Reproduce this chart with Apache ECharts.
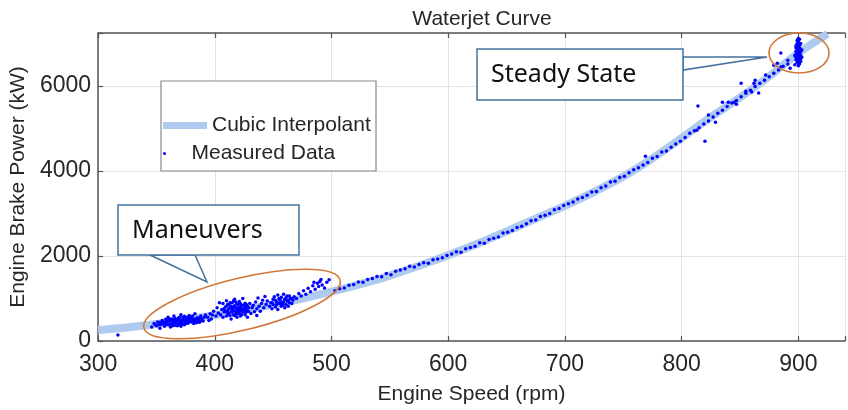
<!DOCTYPE html>
<html>
<head>
<meta charset="utf-8">
<script src="https://cdn.jsdelivr.net/npm/echarts@6/dist/echarts.min.js"></script>
<style>
  html, body { margin: 0; padding: 0; background: #fff; }
  #chart { width: 848px; height: 410px; }
</style>
</head>
<body>
<div id="chart"></div>
<script>
// cubic interpolant
const curveSpeed = [300, 325, 350, 375, 400, 425, 450, 475, 500, 525, 550, 575, 600, 625, 650, 675, 700, 725, 750, 775, 800, 825, 850, 875, 900, 925];
const curvePower = [260, 320, 400, 500, 610, 730, 860, 1000, 1160, 1340, 1540, 1770, 2020, 2290, 2580, 2880, 3180, 3510, 3870, 4300, 4780, 5270, 5730, 6230, 6780, 7230];

// measured data [rpm, kW]
const lowSpeedCluster = [
  [317,140],[346,330],[348,410],[350,360],[351,450],[353,300],[354,390],[355,480],[356,420],[357,350],[358,510],[359,440],
  [360,380],[360,560],[361,470],[362,330],[363,520],[364,410],[365,460],[365,590],[366,370],[367,500],[368,430],
  [369,550],[370,480],[370,400],[371,620],[372,450],[373,520],[374,380],[374,580],[375,470],[376,540],[377,420],
  [378,600],[379,490],[380,450],[380,560],[381,520],[382,410],[383,640],[384,480],[385,550],[386,500],[387,440],
  [388,590],[389,520],[390,470],[391,560],[392,610],[352,380],[357,440],[362,400],[366,530],[368,360],[372,490],
  [375,410],[378,460],[381,590],[384,430],[363,470],[369,420],[373,560],[376,500],[379,540],[371,350],[359,480],
  [355,420],[367,460],[383,520],[394,560],[396,640],[397,520],[399,700],[401,590],[402,780],[403,660],[395,480],
  [398,610],[404,900],[358,400],[361,520],[364,360],[366,440],[368,500],[370,560],[372,400],[374,470],[376,430],
  [378,520],[380,500],[382,470],[385,440],[387,540],[353,440],[349,380],[365,500],[371,440],[377,560],[389,480]
];
const midSpeedCluster = [
  [405,620],[406,740],[407,560],[407,880],[408,680],[409,800],[410,590],[410,950],[411,720],[412,640],[412,860],
  [413,780],[414,520],[414,690],[415,900],[415,760],[416,610],[417,830],[417,980],[418,700],[419,560],[419,870],
  [420,780],[420,640],[421,930],[422,720],[422,590],[423,840],[424,680],[424,1000],[425,760],[426,620],[426,890],
  [427,740],[428,820],[428,560],[429,700],[430,880],[431,650],[432,780],[409,700],[411,860],[413,600],[416,720],
  [418,920],[421,660],[423,760],[425,840],[427,680],[418,780],[414,820],[420,700],[422,880],[419,640],[415,680],
  [412,760],[410,820],[417,600],[424,720],[426,800],[433,840],[434,690],[435,920],[436,760],[437,1010],[438,820],
  [439,700],[440,880],[441,960],[442,780],[443,1050],[444,860],[445,940],[436,600],[408,760],[411,660],[413,900],
  [416,800],[418,640],[420,860],[421,740],[423,620],[425,700],[427,860],[429,780],[416,940],[419,720],[422,800]
];
const highManeuverCluster = [
  [447,820],[448,900],[449,760],[450,980],[450,860],[451,1040],[452,800],[453,920],[454,1080],[454,740],[455,880],
  [456,960],[457,820],[457,1030],[458,900],[459,1100],[460,780],[460,980],[461,860],[462,940],[462,1060],[463,820],
  [464,900],[465,1000],[466,880],[467,960],[468,1040],[452,960],[455,1000],[458,840],[461,1020],[463,960],[456,880],
  [459,920],[464,1060],[453,860],[466,1000],[449,900],[470,1000],[472,1120],[474,1060],[476,1180],[478,1100],
  [480,1240],[482,1160],[484,1300],[486,1220],[488,1360],[489,1280],[490,1400],[492,1320],[494,1250],[496,1380],
  [498,1440],[485,1380],[491,1450]
];
const transitPoints = [
  [503,1180],[507,1230],[511,1250],[515,1310],[519,1330],[523,1390],[527,1380],[531,1450],[535,1470],[539,1520],
  [543,1510],[547,1590],[551,1560],[555,1640],[559,1670],[563,1700],[567,1760],[571,1740],[575,1800],[579,1840],
  [583,1830],[587,1910],[591,1930],[595,1960],[599,2010],[603,2050],[607,2100],[611,2090],[615,2170],[619,2200],
  [623,2230],[627,2310],[631,2300],[635,2390],[639,2420],[643,2450],[647,2540],[651,2560],[655,2600],[659,2670],
  [663,2700],[667,2760],[671,2830],[675,2850],[679,2930],[683,2960],[687,3000],[691,3090],[695,3120],[699,3190],
  [703,3230],[707,3270],[711,3340],[715,3380],[719,3430],[723,3510],[727,3520],[731,3610],[735,3650],[739,3740],
  [743,3760],[747,3850],[751,3880],[755,3960],[759,4030],[763,4080],[767,4140],[769,4350],[771,4200],[775,4300],
  [779,4340],[783,4450],[787,4470],[791,4560],[795,4640],[799,4700],[803,4790],[807,4890],[811,4950],[813,4960],
  [814,5530],[815,5020],[819,5110],[820,4700],[823,5320],[823,5180],[827,5270],[829,5150],[831,5360],[835,5620],
  [835,5430],[839,5520],[840,5620],[843,5600],[845,5620],[847,5570],[847,5660],[851,6070],[851,5750],[855,5880],
  [855,5830],[859,5900],[860,5860],[862,6070],[863,6140],[863,5990],[866,5840],[867,6070],[871,6140],[872,6260],
  [875,6220],[879,6490],[879,6300],[882,6540],[883,6380],[885,6780],[885,6450],[887,6470],[891,6610],[891,6520],
  [893,6420]
];
const steadyStateCluster = [
  [897,6500],[898,6620],[898,6750],[899,6880],[899,6560],[900,6700],[900,6820],[900,6950],[900,7050],[901,6640],
  [901,6780],[901,6900],[902,7000],[902,6580],[902,6720],[903,6850],[899,7000],[898,6950],[900,6600],[901,7100],
  [899,6680],[900,6480],[902,6870],[898,6820],[901,6520],[899,6780],[900,6900],[902,6640],[897,6720],[903,6680],
  [900,7120],[899,7080],[901,6960],[898,6900],[900,6760],[902,6800],[899,6620],[901,6700],[900,6540],[898,6680]
];

const xTicks = [300, 400, 500, 600, 700, 800, 900];
const yTicks = [0, 2000, 4000, 6000];

const measured = [].concat(lowSpeedCluster, midSpeedCluster, highManeuverCluster, transitPoints, steadyStateCluster);

const chart = echarts.init(document.getElementById('chart'));
const font = 'Liberation Sans, Arial, Helvetica, sans-serif';
const ink = '#262626';
const boxBlue = '#41719c';
const orange = '#d2773a';

const axisCommon = {
  axisLine: { show: true, lineStyle: { color: '#555', width: 1.5 } },
  axisTick: { show: true, inside: true, length: 5, lineStyle: { color: '#555', width: 1.2 } },
  splitLine: { show: true, lineStyle: { color: '#e3e3e3', width: 1 } }
};

chart.setOption({
  animation: false,
  title: {
    text: 'Waterjet Curve',
    left: 477,
    top: 4,
    textAlign: 'center',
    textStyle: { fontFamily: font, fontSize: 21, fontWeight: 'normal', color: ink }
  },
  grid: { left: 97, top: 33, width: 750, height: 308 },
  legend: [
    {
      data: [{ name: 'Cubic Interpolant', icon: 'rect' }],
      left: 163, top: 115, padding: 0,
      itemWidth: 44, itemHeight: 7,
      textStyle: { fontFamily: font, fontSize: 21, color: ink },
      z: 110
    },
    {
      data: [{ name: 'Measured Data', icon: 'circle' }],
      left: 163, top: 143, padding: 0,
      itemWidth: 44, itemHeight: 3,
      textStyle: { fontFamily: font, fontSize: 21, color: ink },
      z: 110
    }
  ],
  xAxis: [
    Object.assign({}, axisCommon, {
      type: 'value', min: 300, max: 940, interval: 100,
      name: 'Engine Speed (rpm)', nameLocation: 'middle', nameGap: 43,
      nameTextStyle: { fontFamily: font, fontSize: 21, color: ink },
      axisLabel: {
        fontFamily: font, fontSize: 23, color: ink, margin: 12,
        formatter: v => (xTicks.includes(v) ? String(v) : '')
      }
    }),
    Object.assign({}, axisCommon, {
      type: 'value', position: 'top', min: 300, max: 940, interval: 100,
      axisLabel: { show: false }, splitLine: { show: false }
    })
  ],
  yAxis: Object.assign({}, axisCommon, {
    type: 'value', min: 0, max: 7250, interval: 2000,
    name: 'Engine Brake Power (kW)', nameLocation: 'middle', nameGap: 68,
    nameTextStyle: { fontFamily: font, fontSize: 21, color: ink },
    axisLabel: {
      fontFamily: font, fontSize: 23, color: ink, margin: 7,
      formatter: v => (yTicks.includes(v) ? String(v) : '')
    }
  }),
  series: [
    {
      name: 'Cubic Interpolant',
      type: 'line',
      data: curveSpeed.map((s, i) => [s, curvePower[i]]),
      smooth: 0.3,
      showSymbol: false,
      symbol: 'none',
      lineStyle: { color: '#aecbef', width: 8 },
      itemStyle: { color: '#aecbef' },
      z: 2
    },
    {
      name: 'Measured Data',
      type: 'scatter',
      data: measured,
      symbolSize: 3.5,
      itemStyle: { color: '#0000ff', opacity: 1 },
      z: 3
    }
  ],
  graphic: [
    // legend box
    { type: 'rect', z: 100, shape: { x: 161, y: 81, width: 215, height: 90 },
      style: { fill: '#fff', stroke: '#888', lineWidth: 1.2 } },
    // steady state callout
    { type: 'polygon', z: 100, shape: { points: [[683, 57], [767, 57], [683, 70]] },
      style: { fill: '#fff', stroke: boxBlue, lineWidth: 1.5 } },
    { type: 'rect', z: 101, shape: { x: 477, y: 49, width: 206, height: 51 },
      style: { fill: '#fff', stroke: boxBlue, lineWidth: 1.5 } },
    { type: 'text', z: 102, x: 491, y: 75,
      style: { text: 'Steady State', font: '25px "Noto Sans", sans-serif', fill: '#111', verticalAlign: 'middle' } },
    // maneuvers callout
    { type: 'polygon', z: 100, shape: { points: [[150, 255], [207, 282], [195, 255]] },
      style: { fill: '#fff', stroke: boxBlue, lineWidth: 1.5 } },
    { type: 'rect', z: 101, shape: { x: 118, y: 205, width: 181, height: 50 },
      style: { fill: '#fff', stroke: boxBlue, lineWidth: 1.5 } },
    { type: 'text', z: 102, x: 132, y: 231,
      style: { text: 'Maneuvers', font: '25px "Noto Sans", sans-serif', fill: '#111', verticalAlign: 'middle' } },
    // highlight ellipses
    { type: 'ellipse', z: 100, x: 242, y: 304, rotation: 13.7 * Math.PI / 180,
      shape: { cx: 0, cy: 0, rx: 101, ry: 26 },
      style: { fill: 'none', stroke: orange, lineWidth: 1.6 } },
    { type: 'ellipse', z: 100, shape: { cx: 799, cy: 53, rx: 30, ry: 20 },
      style: { fill: 'none', stroke: orange, lineWidth: 1.6 } }
  ]
});
</script>
</body>
</html>
